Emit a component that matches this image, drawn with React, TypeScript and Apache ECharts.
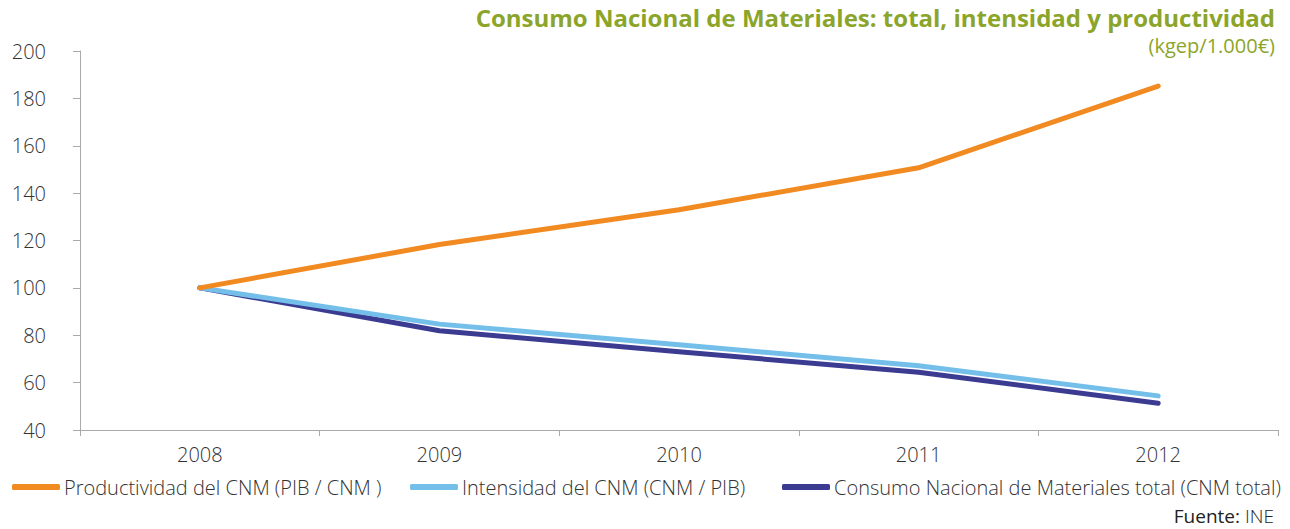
import React, { useEffect, useRef } from "react";
import * as echarts from "echarts";

const years = ["2008", "2009", "2010", "2011", "2012"];
const productividad = [100, 118.3, 133, 150.7, 185.2];
const intensidad = [100, 84.7, 76, 67.1, 54.4];
const cnmTotal = [100, 81.9, 73, 64.4, 51.3];
const seriesNames = [
  "Productividad del CNM (PIB / CNM )",
  "Intensidad del CNM (CNM / PIB)",
  "Consumo Nacional de Materiales total (CNM total)",
];
const colors = ["#f18a21", "#74bfea", "#3b3b91"];

const FONT = "Open Sans";

export default function App() {
  const ref = useRef<HTMLDivElement>(null);
  useEffect(() => {
    if (!ref.current) return;
    const chart = echarts.init(ref.current, undefined, { renderer: "svg" });
    const legendBase = {
      orient: "horizontal",
      top: 472,
      icon: "roundRect",
      itemWidth: 48,
      itemHeight: 6,
      itemGap: 10,
      selectedMode: false,
      textStyle: { fontFamily: FONT, fontSize: 20, color: "#333", fontWeight: 300, padding: [0, 0, 0, -1] },
    };
    chart.setOption({
      animation: false,
      title: [
        {
          text: "Consumo Nacional de Materiales: total, intensidad y productividad",
          right: 15,
          top: 5,
          padding: 0,
          textStyle: { fontFamily: FONT, fontSize: 24, fontWeight: "bold", color: "#8ba52a" },
        },
        {
          text: "(kgep/1.000€)",
          right: 15,
          top: 35,
          padding: 0,
          textStyle: { fontFamily: FONT, fontSize: 20, fontWeight: "normal", color: "#8ba52a" },
        },
        {
          text: "{b|Fuente:} {n|INE}",
          right: 16,
          top: 506,
          padding: 0,
          textStyle: {
            rich: {
              b: { fontFamily: FONT, fontSize: 19, fontWeight: "normal", color: "#222" },
              n: { fontFamily: FONT, fontSize: 19, fontWeight: 300, color: "#222" },
            },
          },
        },
      ],
      legend: [
        { ...legendBase, left: 7, data: [seriesNames[0]] },
        { ...legendBase, left: 405, data: [seriesNames[1]] },
        { ...legendBase, left: 777, data: [seriesNames[2]] },
      ],
      grid: { left: 80, right: 12, top: 51, bottom: 99, containLabel: false },
      xAxis: {
        type: "category",
        data: years,
        boundaryGap: true,
        axisLine: { lineStyle: { color: "#aaa", width: 1 } },
        axisTick: { show: true, length: 6, lineStyle: { color: "#aaa" } },
        axisLabel: { fontFamily: FONT, fontSize: 20, color: "#333", fontWeight: 300, margin: 14 },
        splitLine: { show: false },
      },
      yAxis: {
        type: "value",
        min: 40,
        max: 200,
        interval: 20,
        axisLine: { show: true, lineStyle: { color: "#aaa", width: 1 } },
        axisTick: { show: true, length: 7, lineStyle: { color: "#aaa" } },
        axisLabel: { fontFamily: FONT, fontSize: 20, color: "#333", fontWeight: 300, margin: 34 },
        splitLine: { show: false },
      },
      series: [productividad, intensidad, cnmTotal].map((d, i) => ({
        name: seriesNames[i],
        type: "line",
        data: d,
        symbol: "none",
        z: 3 - i,
        lineStyle: { width: 5, color: colors[i], cap: "round", join: "round" },
        itemStyle: { color: colors[i] },
      })),
    });
    return () => chart.dispose();
  }, []);
  return <div ref={ref} style={{ width: 1290, height: 529, position: "absolute", left: 0, top: 0 }} />;
}
